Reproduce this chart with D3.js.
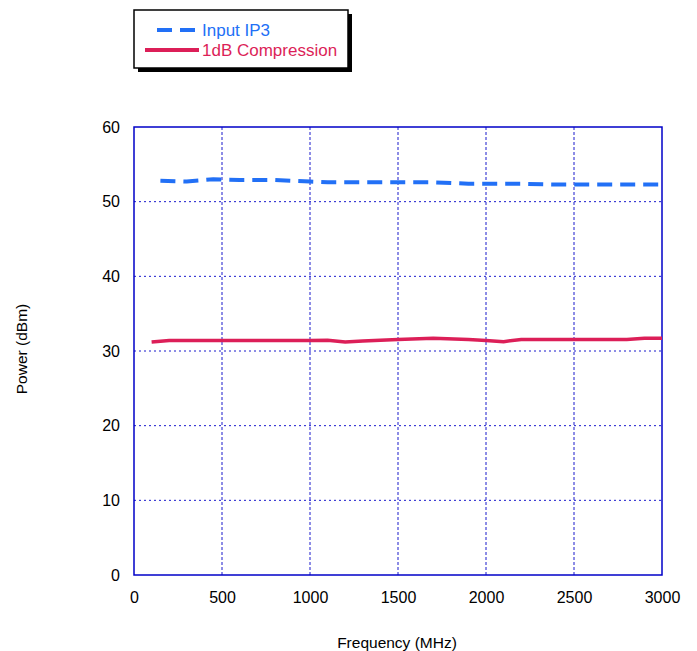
<!DOCTYPE html>
<html>
<head>
<meta charset="utf-8">
<script src="https://cdn.jsdelivr.net/npm/d3@7"></script>
<style>
  body { margin: 0; background: #fff; }
  text { font-family: "Liberation Sans", Arial, sans-serif; }
</style>
</head>
<body>
<div id="chart"></div>
<script>
const ctx = {
    W: 697,
    H: 651,
    left: 134,
    right: 662,
    top: 127,
    bottom: 575,
};

// Input IP3 (dBm) vs frequency (MHz)
const ip3Freq = [150, 300, 450, 600, 800, 1000, 1100, 1200, 1500, 1700, 1900, 2000, 2200, 2400, 2600, 3000];
const ip3Vals = [52.8, 52.7, 53.0, 52.9, 52.9, 52.7, 52.6, 52.6, 52.6, 52.6, 52.4, 52.4, 52.4, 52.3, 52.3, 52.3];

// 1dB compression (dBm) vs frequency (MHz)
const p1dbFreq = [100, 200, 500, 1000, 1100, 1200, 1300, 1500, 1700, 1900, 2000, 2100, 2200, 2500, 2800, 2900, 3000];
const p1dbVals = [31.2, 31.4, 31.4, 31.4, 31.45, 31.2, 31.35, 31.55, 31.7, 31.55, 31.4, 31.25, 31.55, 31.55, 31.55, 31.7, 31.7];

const xTicks = [0, 500, 1000, 1500, 2000, 2500, 3000];
const yTicks = [0, 10, 20, 30, 40, 50, 60];

const BLUE = "#2270f6";
const RED = "#dc1f58";
const GRID = "#1a1acc";

function createViz() {
    const svg = d3.select("#chart").append("svg")
        .attr("width", ctx.W)
        .attr("height", ctx.H);

    const x = d3.scaleLinear().domain([0, 3000]).range([ctx.left, ctx.right]);
    const y = d3.scaleLinear().domain([0, 60]).range([ctx.bottom, ctx.top]);

    // grid lines
    svg.append("g")
        .selectAll("line")
        .data(xTicks.slice(1, -1))
        .enter().append("line")
        .attr("x1", d => x(d)).attr("x2", d => x(d))
        .attr("y1", ctx.top).attr("y2", ctx.bottom)
        .attr("stroke", GRID)
        .attr("stroke-width", 1)
        .attr("stroke-dasharray", "3,2");

    svg.append("g")
        .selectAll("line")
        .data(yTicks.slice(1, -1))
        .enter().append("line")
        .attr("x1", ctx.left).attr("x2", ctx.right)
        .attr("y1", d => y(d)).attr("y2", d => y(d))
        .attr("stroke", GRID)
        .attr("stroke-width", 1)
        .attr("stroke-dasharray", "2,3");

    // frame
    svg.append("rect")
        .attr("x", ctx.left).attr("y", ctx.top)
        .attr("width", ctx.right - ctx.left)
        .attr("height", ctx.bottom - ctx.top)
        .attr("fill", "none")
        .attr("stroke", "#0000c8")
        .attr("stroke-width", 1.5);

    // axes (tick labels only, frame drawn above)
    const xAxis = svg.append("g")
        .attr("transform", `translate(0,${ctx.bottom})`)
        .call(d3.axisBottom(x).tickValues(xTicks).tickFormat(d3.format("d")).tickSize(0).tickPadding(17));
    const yAxis = svg.append("g")
        .attr("transform", `translate(${ctx.left},0)`)
        .call(d3.axisLeft(y).tickValues(yTicks).tickFormat(d3.format("d")).tickSize(0).tickPadding(14));
    [xAxis, yAxis].forEach(g => {
        g.select(".domain").remove();
        g.selectAll("text")
            .attr("font-family", "Liberation Sans, Arial, sans-serif")
            .attr("font-size", "16px")
            .attr("fill", "#000");
    });

    // axis titles
    svg.append("text")
        .attr("x", 397)
        .attr("y", 648)
        .attr("text-anchor", "middle")
        .attr("font-size", "15.5px")
        .text("Frequency (MHz)");

    svg.append("text")
        .attr("transform", "translate(27,349) rotate(-90)")
        .attr("text-anchor", "middle")
        .attr("font-size", "15.5px")
        .text("Power (dBm)");

    // series
    const line = d3.line().x(d => x(d[0])).y(d => y(d[1]));

    svg.append("path")
        .datum(p1dbFreq.map((f, i) => [f, p1dbVals[i]]))
        .attr("d", line)
        .attr("fill", "none")
        .attr("stroke", RED)
        .attr("stroke-width", 3.5);

    svg.append("path")
        .datum(ip3Freq.map((f, i) => [f, ip3Vals[i]]))
        .attr("d", line)
        .attr("fill", "none")
        .attr("stroke", BLUE)
        .attr("stroke-width", 4)
        .attr("stroke-dasharray", "15,8");

    // legend
    const lg = svg.append("g");
    lg.append("rect")
        .attr("x", 138).attr("y", 14)
        .attr("width", 214).attr("height", 58)
        .attr("fill", "#000");
    lg.append("rect")
        .attr("x", 134).attr("y", 10)
        .attr("width", 214).attr("height", 58)
        .attr("fill", "#fff")
        .attr("stroke", "#000")
        .attr("stroke-width", 1.5);

    lg.append("line")
        .attr("x1", 157).attr("x2", 196)
        .attr("y1", 30).attr("y2", 30)
        .attr("stroke", BLUE)
        .attr("stroke-width", 4)
        .attr("stroke-dasharray", "15,8");
    lg.append("line")
        .attr("x1", 145).attr("x2", 199)
        .attr("y1", 50).attr("y2", 50)
        .attr("stroke", RED)
        .attr("stroke-width", 4);

    lg.append("text")
        .attr("x", 202).attr("y", 36)
        .attr("font-size", "17px")
        .attr("fill", BLUE)
        .text("Input IP3");
    lg.append("text")
        .attr("x", 202).attr("y", 56)
        .attr("font-size", "17px")
        .attr("fill", RED)
        .text("1dB Compression");
}

createViz();
</script>
</body>
</html>
